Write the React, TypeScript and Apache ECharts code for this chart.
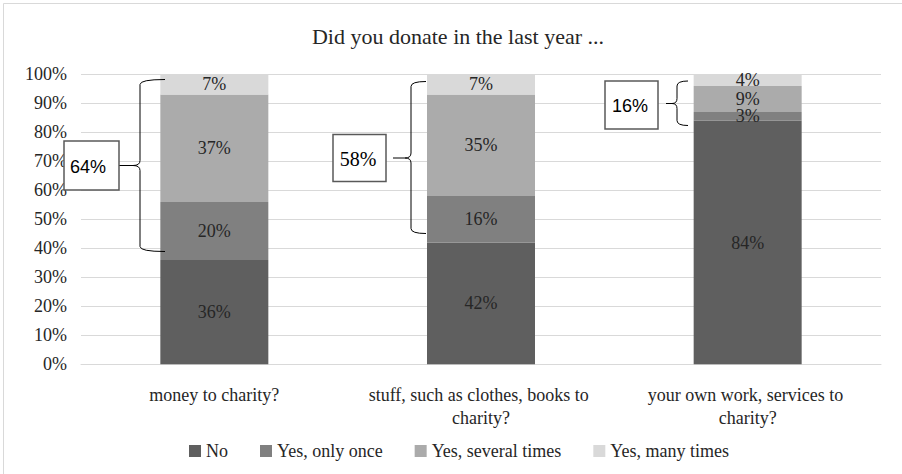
import React, { useEffect, useRef } from "react";
import * as echarts from "echarts";

const categories = [
  "money to charity?",
  "stuff, such as clothes, books to charity?",
  "your own work, services to charity?",
];
const seriesNames = ["No", "Yes, only once", "Yes, several times", "Yes, many times"];
const noValues = [36, 42, 84];
const onceValues = [20, 16, 3];
const severalValues = [37, 35, 9];
const manyValues = [7, 7, 4];
const yTickValues = [0, 10, 20, 30, 40, 50, 60, 70, 80, 90, 100];

const colors = ["#5f5f5f", "#808080", "#ababab", "#d9d9d9"];
const SERIF = "Liberation Serif";
const SANS = "Liberation Sans";

function bracePath(xEnd: number, xV: number, xTip: number, yTop: number, yTip: number, yBot: number) {
  return (
    `M${xEnd},${yTop} Q${xV},${yTop} ${xV},${yTop + 5} ` +
    `L${xV},${yTip - 5} Q${xV},${yTip} ${xTip},${yTip} ` +
    `Q${xV},${yTip} ${xV},${yTip + 5} ` +
    `L${xV},${yBot - 5} Q${xV},${yBot} ${xEnd},${yBot}`
  );
}

const braceDefs = [
  { name: "brace0", xEnd: 165, xV: 140, xTip: 133, yTop: 79.5, yTip: 165.5, yBot: 251.5, box: { x: 64, y: 141, w: 55, h: 49 }, lineFrom: 119, font: SANS, size: 18, tx: 88 },
  { name: "brace1", xEnd: 426, xV: 411, xTip: 405, yTop: 81.5, yTip: 158, yBot: 233.5, box: { x: 333, y: 134.5, w: 53, h: 47 }, lineFrom: 393, font: SERIF, size: 20, tx: 358 },
  { name: "brace2", xEnd: 688, xV: 677, xTip: 672, yTop: 81, yTip: 103.5, yBot: 125.5, box: { x: 605, y: 81, w: 53, h: 48 }, lineFrom: 666, font: SANS, size: 18, tx: 630 },
];

let registered = false;
function registerBraces() {
  if (registered) return;
  registered = true;
  braceDefs.forEach((b) => {
    const d = bracePath(b.xEnd, b.xV, b.xTip, b.yTop, b.yTip, b.yBot);
    echarts.graphic.registerShape(b.name, (echarts.graphic as any).extendPath(d, {}));
  });
}

export default function App() {
  const ref = useRef<HTMLDivElement>(null);
  useEffect(() => {
    if (!ref.current) return;
    registerBraces();
    const chart = echarts.init(ref.current, undefined, { renderer: "svg" });
    const seriesData = [noValues, onceValues, severalValues, manyValues];
    const yesTotals = categories.map((_, i) => onceValues[i] + severalValues[i] + manyValues[i]);

    const graphics: any[] = [
      {
        type: "rect",
        shape: { x: 3.5, y: 3.5, width: 1200, height: 1200 },
        style: { fill: "none", stroke: "#d9d9d9", lineWidth: 1 },
        silent: true,
        z: 0,
      },
    ];
    braceDefs.forEach((b, i) => {
      graphics.push({
        type: b.name,
        x: 0,
        y: 0,
        style: { fill: "none", stroke: "#000", lineWidth: 1 },
        z: 10,
      });
      graphics.push({
        type: "line",
        shape: { x1: b.lineFrom, y1: b.yTip, x2: b.xTip, y2: b.yTip },
        style: { stroke: "#000", lineWidth: 1 },
        z: 10,
      });
      graphics.push({
        type: "rect",
        shape: { x: b.box.x, y: b.box.y, width: b.box.w, height: b.box.h },
        style: { fill: "#fff", stroke: "#595959", lineWidth: 1.5 },
        z: 10,
      });
      graphics.push({
        type: "text",
        x: b.tx,
        y: b.box.y + b.box.h / 2 + 1,
        style: {
          text: yesTotals[i] + "%",
          fontFamily: b.font,
          fontSize: b.size,
          fill: "#000",
          align: "center",
          verticalAlign: "middle",
        },
        z: 11,
      });
    });

    chart.setOption({
      animation: false,
      backgroundColor: "#fff",
      title: {
        text: "Did you donate in the last year ...",
        left: 453,
        textAlign: "center",
        top: 20,
        textStyle: { fontFamily: SERIF, fontSize: 22, fontWeight: "normal", color: "#262626" },
      },
      grid: { left: 81, right: 21, top: 74.3, bottom: 109.7, containLabel: false },
      legend: {
        left: 184,
        top: 437,
        itemWidth: 12,
        itemHeight: 12,
        itemGap: 32,
        itemTextGap: 5,
        icon: "rect",
        textStyle: { fontFamily: SERIF, fontSize: 18, color: "#262626" },
        data: seriesNames,
      },
      xAxis: {
        type: "category",
        data: categories,
        axisLine: { show: true, lineStyle: { color: "#d9d9d9", width: 1 } },
        axisTick: { show: false },
        axisLabel: {
          margin: 19,
          fontFamily: SERIF,
          fontSize: 18,
          color: "#262626",
          width: 240,
          overflow: "break",
          lineHeight: 23,
          interval: 0,
        },
      },
      yAxis: {
        type: "value",
        min: yTickValues[0],
        max: yTickValues[yTickValues.length - 1],
        interval: 10,
        axisLine: { show: false },
        axisTick: { show: false },
        splitLine: { lineStyle: { color: "#d9d9d9", width: 1 } },
        axisLabel: {
          margin: 14,
          fontFamily: SERIF,
          fontSize: 18,
          color: "#262626",
          formatter: (v: number) => v + "%",
        },
      },
      graphic: graphics,
      series: seriesNames.map((name, i) => ({
        name,
        type: "bar",
        stack: "total",
        barWidth: "40.5%",
        data: seriesData[i],
        itemStyle: { color: colors[i] },
        label: {
          show: true,
          position: "inside",
          formatter: (p: any) => p.value + "%",
          fontFamily: SERIF,
          fontSize: 18,
          lineHeight: 15,
          color: "#262626",
        },
      })),
    });
    return () => chart.dispose();
  }, []);
  return (
    <div
      ref={ref}
      style={{ position: "absolute", left: 0, top: 0, width: 902, height: 474, background: "#fff" }}
    />
  );
}
